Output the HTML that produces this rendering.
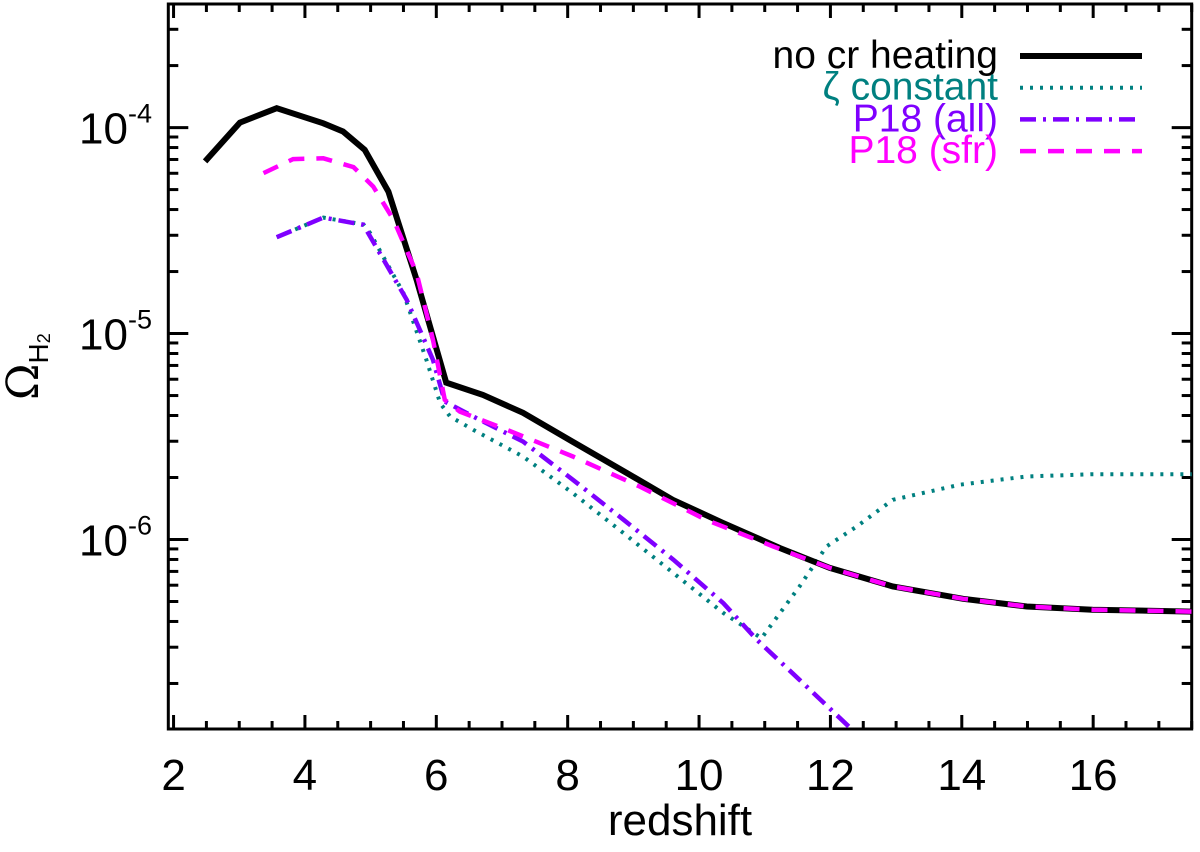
<!DOCTYPE html>
<html><head><meta charset="utf-8"><style>
html,body{margin:0;padding:0;background:#fff;}
svg{display:block;font-family:"Liberation Sans",sans-serif;}
</style></head><body>
<svg id="chart" width="1200" height="852" viewBox="0 0 1200 852" xmlns="http://www.w3.org/2000/svg">
<defs><clipPath id="plotclip"><rect x="168" y="4" width="1024" height="725"/></clipPath></defs>
<g id="axes"></g>
<g id="series" clip-path="url(#plotclip)"></g>
<g id="legend"></g>
</svg>
<script>
// ---- data (redshift, log10 Omega_H2) ----
const zBlack = [2.48,3.01,3.57,4.28,4.58,4.91,5.27,5.70,6.15,6.71,7.32,8.08,8.90,9.60,10.36,11.23,11.99,12.95,14.02,14.99,15.99,17.50];
const logBlack = [-4.164,-3.976,-3.906,-3.979,-4.019,-4.108,-4.311,-4.739,-5.238,-5.298,-5.385,-5.526,-5.677,-5.807,-5.919,-6.041,-6.138,-6.228,-6.288,-6.325,-6.341,-6.350];
const zSfr = [3.37,3.82,4.28,4.74,5.04,5.35,5.70,5.95,6.13,6.36,7.07,8.08,9.10,10.11,11.13,11.99,12.95,14.02,14.99,15.99,17.50];
const logSfr = [-4.221,-4.153,-4.149,-4.192,-4.286,-4.448,-4.707,-5.031,-5.322,-5.379,-5.467,-5.597,-5.743,-5.905,-6.034,-6.138,-6.228,-6.288,-6.325,-6.341,-6.350];
const zAll = [3.57,4.28,4.89,5.14,5.55,5.95,6.13,6.56,7.32,8.08,8.85,9.61,10.37,10.88,11.53,12.32,12.60];
const logAll = [-4.532,-4.437,-4.472,-4.610,-4.836,-5.128,-5.330,-5.403,-5.524,-5.710,-5.904,-6.098,-6.309,-6.487,-6.681,-6.920,-7.030];
const zZeta = [3.57,4.28,4.89,4.99,5.50,5.85,6.06,6.21,6.56,7.32,8.08,8.85,9.61,10.37,10.95,11.53,11.94,12.40,12.95,13.97,14.98,16.00,17.50];
const logZeta = [-4.532,-4.437,-4.470,-4.511,-4.804,-5.128,-5.338,-5.403,-5.467,-5.597,-5.775,-5.969,-6.163,-6.357,-6.479,-6.228,-6.034,-5.937,-5.807,-5.734,-5.694,-5.683,-5.683];
const xTicks = [2,4,6,8,10,12,14,16];
const xTickLabels = ["2","4","6","8","10","12","14","16"];
const yDecades = [-4,-5,-6];
const yTickLabels = ["-4","-5","-6"];
const legendLabels = ["no cr heating","ζ constant","P18 (all)","P18 (sfr)"];

// ---- scales ----
const X0=168.3, X1=1191.7, Y0=4, Y1=729;
const xMin=1.92, xMax=17.5, yMin=-6.92, yMax=-3.40;
const xs = z => X0 + (z - xMin)/(xMax - xMin)*(X1 - X0);
const ys = l => Y1 - (l - yMin)/(yMax - yMin)*(Y1 - Y0);
const NS="http://www.w3.org/2000/svg";
function mk(tag, attrs, parent){const e=document.createElementNS(NS,tag);for(const k in attrs)e.setAttribute(k,attrs[k]);parent.appendChild(e);return e;}

const axes=document.getElementById('axes');
const frame=mk('rect',{x:X0,y:Y0,width:X1-X0,height:Y1-Y0,fill:'none',stroke:'#000','stroke-width':3},axes);



for(let z=2; z<=17.5; z+=0.5){
  const major = Math.abs(z/2-Math.round(z/2))<1e-6;
  const L = major?14:8, x=xs(z);
  const t1=mk('line',{x1:x,x2:x,y1:Y1,y2:Y1-L,stroke:'#000','stroke-width':3},axes);
  
  
  const t2=mk('line',{x1:x,x2:x,y1:Y0,y2:Y0+L,stroke:'#000','stroke-width':3},axes);
  
  
}
xTicks.forEach((z,i)=>{
  const t=mk('text',{x:xs(z),y:790,'font-size':44,'text-anchor':'middle',fill:'#000'},axes);
  t.textContent=xTickLabels[i];
  
  
});
const xt=mk('text',{x:680,y:835,'font-size':44,'text-anchor':'middle',fill:'#000'},axes);
xt.textContent='redshift';



for(let d=-7; d<=-4; d++){
  for(let m=1;m<=9;m++){
    const l=d+Math.log10(m);
    if(l<yMin||l>yMax) continue;
    const L = m===1?20:10, y=ys(l);
    const t1=mk('line',{x1:X0,x2:X0+L,y1:y,y2:y,stroke:'#000','stroke-width':3},axes);
    
    
    const t2=mk('line',{x1:X1,x2:X1-L,y1:y,y2:y,stroke:'#000','stroke-width':3},axes);
    
    
  }
}
yDecades.forEach((d,i)=>{
  const y=ys(d);
  const t=mk('text',{x:128,y:y+16,'font-size':44,'text-anchor':'end',fill:'#000'},axes);
  t.textContent='10';
  
  
  const s=mk('text',{x:128,y:y-5,'font-size':27,'text-anchor':'start',fill:'#000'},axes);
  s.textContent=yTickLabels[i];
  
  
});
const yt=mk('text',{transform:'translate(38,400) rotate(-90)','font-size':44,fill:'#000','font-family':'"DejaVu Serif","Liberation Serif",serif'},axes);


yt.textContent='Ω';
const ysub=mk('tspan',{'font-size':28,dy:10,'font-family':'"Liberation Sans",sans-serif'},yt);
ysub.textContent='H';
const ysub2=mk('tspan',{'font-size':18,dy:2,'font-family':'"Liberation Sans",sans-serif'},yt);
ysub2.textContent='2';

const series=document.getElementById('series');
function path(zs,ls){return zs.map((z,i)=>(i?'L':'M')+xs(z).toFixed(1)+' '+ys(ls[i]).toFixed(1)).join(' ');}
const pZeta=mk('path',{d:path(zZeta,logZeta),fill:'none',stroke:'#008080','stroke-width':4,'stroke-dasharray':'3 7'},series);


const pAll=mk('path',{d:path(zAll,logAll),fill:'none',stroke:'#7f00ff','stroke-width':4.5,'stroke-dasharray':'16 7 3 7'},series);


const pBlack=mk('path',{d:path(zBlack,logBlack),fill:'none',stroke:'#000','stroke-width':6,'stroke-linejoin':'miter'},series);


const pSfr=mk('path',{d:path(zSfr,logSfr),fill:'none',stroke:'#ff00ff','stroke-width':4.5,'stroke-dasharray':'16 12'},series);



const lg=document.getElementById('legend');
const lcol=['#000','#008080','#7f00ff','#ff00ff'];
const ldash=['none','3 7','16 7 3 7','16 12'];
const lw=[6,4,4.5,4.5];
legendLabels.forEach((s,i)=>{
  const yb=68+i*31.7;
  const t=mk('text',{x:998,y:yb,'font-size':39,'text-anchor':'end',fill:lcol[i]},lg);
  t.textContent=s;
  
  
  const l=mk('line',{x1:1020,x2:1142,y1:yb-12,y2:yb-12,stroke:lcol[i],'stroke-width':lw[i],'stroke-dasharray':ldash[i]},lg);
  
  
});
</script>
</body></html>
